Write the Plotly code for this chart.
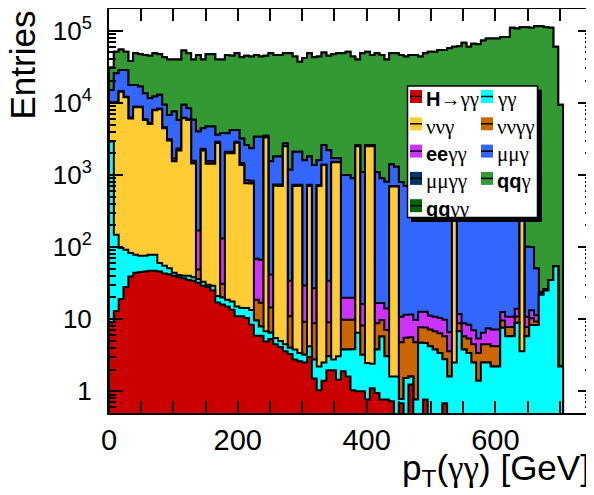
import numpy as np
import plotly.graph_objects as go

# ------------------------------------------------------------------
# Data: stacked histogram, 94 bins of 7.5 GeV (0 - 705 GeV)
# ------------------------------------------------------------------
bin_width = 7.5
n_bins = 94

labels = ["H→γγ", "γγ", "ννγ", "ννγγ", "eeγγ", "μμγ", "μμγγ", "qqγ", "qqγγ"]
colors = ["#cc0000", "#00ffff", "#ffcc33", "#cc6600", "#cc33ff",
          "#3366ff", "#003366", "#339933", "#006600"]

h_gg = [9, 13, 19, 28, 39, 44, 45, 46, 47, 47,
        46, 43, 42, 40, 38, 37, 35, 34, 32, 29,
        28, 25, 17, 16, 15, 13.5, 11, 11, 10.4, 8.4,
        5.9, 5.9, 4.9, 5.3, 4.5, 4.1, 3.6, 3.3, 2.75, 2.6,
        2.5, 3.0, 1.5, 1.03, 1.4, 1.95, 1.95, 1.45, 1.9, 1.6,
        1.03, 1.0, 1.0, 0.77, 1.1, 0.95, 0.77, 0.77, 0.73, 0,
        0.68, 0, 1.24, 0, 0, 0.77, 0, 0, 0, 0.68,
        0, 0, 0, 0, 0, 0, 0, 0, 0, 0,
        0, 0, 0, 0, 0, 0, 0, 0, 0, 0,
        0, 0, 0, 0]

gg = [2890, 135, 78, 64, 44, 34, 31, 30, 31, 31,
      14, 12, 9, 4, 3, 3, 5, 4, 4, 4,
      2, 4, 4, 4, 3.6, 4.1, 4, 3.3, 3.9, 5,
      3.7, 2, 1.9, 1.2, 1.0, 0.9, 0.9, 0.7, 1.05, 0.8,
      0.7, 1.2, 1.25, 1.17, 1.1, 1.1, 0.8, 1.6, 1.9, 2.2,
      2.8, 5.5, 2.2, 1.7, 1.3, 2.85, 5.0, 2.3, 0.87, 1.6,
      0.1, 1.53, 0.36, 0.77, 4.7, 3.9, 4.2, 3.8, 3.4, 2.1,
      1.6, 2.5, 6.8, 3.8, 3.4, 2.5, 1.4, 2.5, 2.5, 2.2,
      2.2, 7.6, 5.8, 5.8, 8.9, 3.6, 5.8, 8.3, 8.3, 21.8,
      25, 35, 54, 2.2]

nng = [7100, 9850, 14200, 11900, 6000, 8600, 8600, 5700, 5000, 7800,
       8100, 4400, 2950, 1500, 2150, 6050, 5750, 1400, 0, 2150,
       1400, 1400, 2750, 0, 1980, 1980, 2780, 1360, 750, 750,
       0, 0, 3290, 0, 700, 700, 2490, 0, 700, 700,
       0, 700, 0, 700, 1370, 0, 1500, 1500, 0, 0,
       0, 2490, 0, 2500, 2500, 0, 0, 0, 690, 690,
       0, 0, 0, 0, 0, 0, 0, 0, 0, 0,
       0, 800, 0, 0, 0, 0, 0, 0, 0, 0,
       0, 0, 0, 0, 0, 500, 0, 0, 0, 0,
       0, 0, 0, 0]

nngg = [15, 15, 15, 15, 15, 15, 15, 15, 15, 15,
        15, 15, 15, 15, 15, 15, 15, 15, 13, 15,
        15, 12, 12, 11, 12, 11, 11, 10, 10, 9,
        9, 9, 8, 8, 8, 8, 7, 7, 7, 7,
        6, 6, 6, 6, 6, 6, 5, 5, 6, 6,
        6, 5, 5, 5, 5, 5, 4, 4, 4, 4,
        4, 4, 4, 4, 3, 3, 3, 3, 3, 3,
        2, 2, 2, 2, 2, 2, 2, 2, 2, 2,
        2, 2, 2, 2, 2, 2, 2, 2, 1, 1,
        0.5, 0, 0, 0]

eegg = [200, 200, 200, 180, 180, 170, 160, 150, 150, 140,
        140, 130, 130, 125, 120, 120, 120, 120, 120, 110,
        110, 105, 100, 100, 90, 85, 80, 75, 70, 60,
        50, 50, 40, 27, 25, 25, 25, 23, 22, 21,
        20, 20, 18, 18, 18, 25, 15, 15, 10, 10,
        10, 9, 8, 8, 8, 8, 7, 7, 7, 6,
        6, 6, 6, 5, 5, 5, 4, 4, 4, 4,
        3, 3, 3, 3, 3, 2.5, 2, 2, 3, 3,
        3, 3, 3, 3, 3, 3, 3, 3, 2, 1,
        0.5, 0, 0, 0]

mmg = [4800, 15600, 14100, 16400, 11400, 8840, 7950, 7660, 6360, 4170,
       4590, 4800, 3650, 5920, 3470, 3180, 2480, 4230, 3830, 2150,
       3150, 3150, 720, 3670, 1700, 2110, 1310, 1740, 1760, 1520,
       3330, 3330, 155, 1510, 1060, 1060, 225, 1150, 1370, 1370,
       1570, 1070, 1350, 870, 1200, 2170, 180, 180, 980, 980,
       880, 90, 1080, 85, 85, 1080, 880, 790, 700, 600,
       790, 690, 690, 640, 590, 590, 540, 540, 490, 490,
       440, 40, 440, 390, 390, 370, 345, 345, 320, 310,
       290, 290, 290, 270, 260, 11, 90, 87, 39, 0,
       0, 0, 0, 0]

mmgg = [0, 0, 0, 0, 0, 0, 0, 0, 0, 0,
        0, 0, 0, 0, 0, 0, 0, 0, 0, 0,
        0, 0, 0, 0, 0, 0, 0, 0, 0, 0,
        0, 0, 0, 0, 0, 0, 0, 0, 0, 0,
        0, 0, 0, 0, 0, 0, 0, 0, 0, 0,
        0, 0, 0, 0, 0, 0, 0, 0, 0, 0,
        0, 0, 0, 0, 0, 0, 0, 0, 0, 0,
        0, 0, 0, 0, 0, 0, 0, 0, 0, 0,
        0, 0, 0, 0, 0, 0, 0, 0, 0, 0,
        0, 0, 0, 0]

qqg = [16000, 25200, 26400, 22400, 20300, 30900, 30200, 32400, 33400, 36400,
       34100, 33600, 33200, 32400, 34200, 43600, 40200, 34200, 42000, 35500,
       42300, 42300, 36400, 36200, 42200, 40800, 44400, 39800, 42400, 41700,
       42600, 40600, 41500, 47000, 44200, 44200, 45900, 47400, 41900, 34900,
       40400, 46800, 41600, 42400, 47400, 42800, 45300, 46900, 47600, 50000,
       43100, 37400, 47500, 48400, 43400, 47500, 45100, 39200, 47200, 47300,
       45200, 43300, 45300, 45400, 43400, 48000, 50500, 50500, 53500, 53500,
       56500, 59200, 60500, 67600, 59600, 65600, 64700, 72700, 77700, 77700,
       77700, 81700, 81700, 109700, 106700, 111500, 111900, 109900, 115000, 115000,
       112000, 110000, 60000, 9400]

qqgg = [0, 0, 0, 0, 0, 0, 0, 0, 0, 0,
        0, 0, 0, 0, 0, 0, 0, 0, 0, 0,
        0, 0, 0, 0, 0, 0, 0, 0, 0, 0,
        0, 0, 0, 0, 0, 0, 0, 0, 0, 0,
        0, 0, 0, 0, 0, 0, 0, 0, 0, 0,
        0, 0, 0, 0, 0, 0, 0, 0, 0, 0,
        0, 0, 0, 0, 0, 0, 0, 0, 0, 0,
        0, 0, 0, 0, 0, 0, 0, 0, 0, 0,
        0, 0, 0, 0, 0, 0, 0, 0, 0, 0,
        0, 0, 0, 0]

series = [h_gg, gg, nng, nngg, eegg, mmg, mmgg, qqg, qqgg]

x_range = [0, 750]
y_range_vals = [0.5, 2e5]
y_major = [1, 10, 100, 1000, 10000, 100000]
y_major_text = ["1", "10", "10<sup>2</sup>", "10<sup>3</sup>",
                "10<sup>4</sup>", "10<sup>5</sup>"]

# ------------------------------------------------------------------
# Layout constants (page pixels; the page body has an 8 px margin)
# ------------------------------------------------------------------
PAGE_W, PAGE_H = 594, 495
OFF = 8
W, H = PAGE_W - OFF, PAGE_H - OFF
FRAME_L, FRAME_R, FRAME_T, FRAME_B = 109, 592, 9, 413   # page px
L = FRAME_L - OFF
R = W - (FRAME_R - OFF)
T = FRAME_T - OFF
B = H - (FRAME_B - OFF)
PW = W - L - R
PH = H - T - B
SANS = "Liberation Sans, Arial, Helvetica, sans-serif"


def xp(px):
    """page px -> paper x"""
    return (px - OFF - L) / PW


def yp(py):
    """page px -> paper y"""
    return (T + PH - (py - OFF)) / PH


def greek(s, size):
    return ("<span style='font-family:Liberation Serif;font-size:%dpx'>%s</span>"
            % (size, s))


FLOOR = 1e-3
edges = np.arange(n_bins + 1) * bin_width
cum = np.cumsum(np.array(series, dtype=float), axis=0)

fig = go.Figure()
for i in reversed(range(len(series))):
    yv = np.where(cum[i] > 0, cum[i], FLOOR)
    xs = np.concatenate([[edges[0]], edges[:-1], [edges[-1], edges[-1]]])
    ys = np.concatenate([[FLOOR], yv, [yv[-1], FLOOR]])
    fig.add_trace(go.Scatter(
        x=xs, y=ys, mode="lines", name=labels[i],
        line=dict(shape="hv", color="black", width=2, simplify=False),
        fill="tozeroy", fillcolor=colors[i],
        showlegend=False, hoverinfo="skip"))

# invisible helper trace so the minor-tick overlay axis is drawn
fig.add_trace(go.Scatter(x=[x_range[0]], y=[y_major[0]], yaxis="y2",
                         mode="none", showlegend=False, hoverinfo="skip"))

minor_y = [m * 10.0 ** k for k in range(-1, 6) for m in range(2, 10)
           if y_range_vals[0] <= m * 10.0 ** k <= y_range_vals[1]]
log_range = [np.log10(y_range_vals[0]), np.log10(y_range_vals[1])]

fig.update_layout(
    width=W, height=H,
    margin=dict(l=L, r=R, t=T, b=B, autoexpand=False),
    paper_bgcolor="white", plot_bgcolor="white",
    showlegend=False,
    font=dict(family=SANS, color="black"),
    xaxis=dict(
        range=x_range, showline=True, linecolor="black", linewidth=2,
        mirror="allticks", ticks="inside", ticklen=12, tickwidth=2,
        tickcolor="black", tick0=0, dtick=200, tickfont=dict(size=29),
        showgrid=False, zeroline=False, ticklabelstandoff=0,
        minor=dict(tick0=0, dtick=50, ticks="inside", ticklen=6,
                   tickwidth=2, tickcolor="black", showgrid=False),
    ),
    yaxis=dict(
        type="log", range=log_range,
        showline=True, linecolor="black", linewidth=2, mirror="allticks",
        ticks="inside", ticklen=14, tickwidth=2, tickcolor="black",
        tickmode="array", tickvals=y_major, ticktext=y_major_text,
        tickfont=dict(size=26),
        showgrid=False, zeroline=False, ticklabelstandoff=10,
    ),
    yaxis2=dict(
        type="log", range=log_range, overlaying="y", side="left",
        tickmode="array", tickvals=minor_y, showticklabels=False,
        ticks="inside", ticklen=7, tickwidth=2, tickcolor="black",
        mirror="allticks", showline=False, showgrid=False, zeroline=False,
    ),
)

# axis titles (ROOT style: aligned to the axis end)
fig.add_annotation(
    text="p<sub>T</sub>(" + greek("γγ", 35) + ") [GeV]",
    xref="paper", yref="paper", x=xp(400), y=yp(470),
    xanchor="left", yanchor="middle", showarrow=False,
    font=dict(size=35, family=SANS, color="black"))
fig.add_annotation(
    text="Entries", textangle=-90,
    xref="paper", yref="paper", x=xp(21.5), y=yp(8.5),
    xanchor="center", yanchor="top", showarrow=False,
    font=dict(size=35, family=SANS, color="black"))

# legend box with shadow (ROOT TLegend look)
box = dict(x0=407.5, x1=537.5, y0=86, y1=217.5)
shadow = 4
fig.add_shape(type="rect", xref="paper", yref="paper", layer="above",
              x0=xp(box["x0"] + shadow), x1=xp(box["x1"] + shadow),
              y0=yp(box["y1"] + shadow), y1=yp(box["y0"] + shadow),
              fillcolor="black", line=dict(color="black", width=1))
fig.add_shape(type="rect", xref="paper", yref="paper", layer="above",
              x0=xp(box["x0"]), x1=xp(box["x1"]),
              y0=yp(box["y1"]), y1=yp(box["y0"]),
              fillcolor="white", line=dict(color="black", width=1.5))

LEG_FS = 20
GREEK_FS = 21
legend_text = [
    "<b>H</b>→" + greek("γγ", GREEK_FS),
    greek("γγ", GREEK_FS),
    greek("ννγ", GREEK_FS),
    greek("ννγγ", GREEK_FS),
    "<b>ee</b>" + greek("γγ", GREEK_FS),
    greek("μμγ", GREEK_FS),
    greek("μμγγ", GREEK_FS),
    "<b>qq</b>" + greek("γ", GREEK_FS),
    "<b>qq</b>" + greek("γγ", GREEK_FS),
]
col_x = [410, 481]
row_y0, row_dy = 96.5, 27.3
sw_w, sw_h = 12, 13
for k in range(len(labels)):
    col = k % 2
    row = k // 2
    cx = col_x[col]
    cy = row_y0 + row * row_dy
    fig.add_shape(type="rect", xref="paper", yref="paper", layer="above",
                  x0=xp(cx), x1=xp(cx + sw_w),
                  y0=yp(cy + sw_h / 2), y1=yp(cy - sw_h / 2),
                  fillcolor=colors[k], line=dict(width=0))
    fig.add_shape(type="line", xref="paper", yref="paper", layer="above",
                  x0=xp(cx), x1=xp(cx + sw_w), y0=yp(cy), y1=yp(cy),
                  line=dict(color="black", width=1.5))
    fig.add_annotation(
        text=legend_text[k], xref="paper", yref="paper",
        x=xp(cx + sw_w + 2), y=yp(cy + 3), xanchor="left", yanchor="middle",
        showarrow=False, font=dict(size=LEG_FS, family=SANS, color="black"))

fig.write_html("out.html")
